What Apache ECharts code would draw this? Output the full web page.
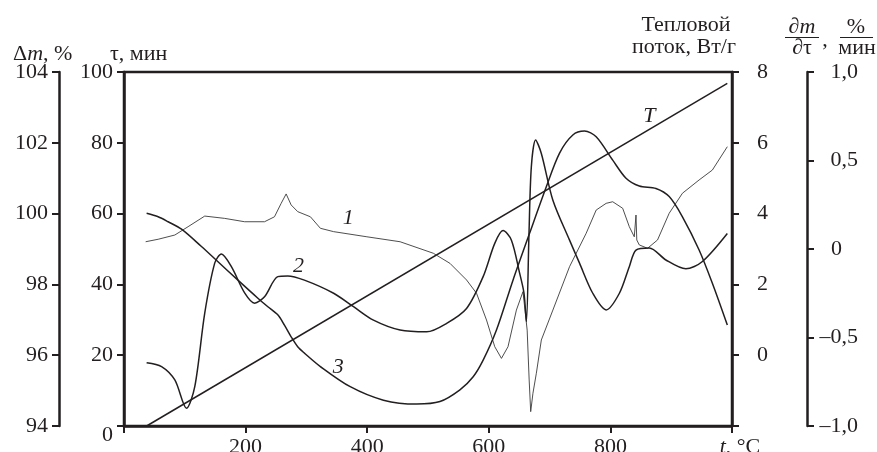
<!DOCTYPE html>
<html>
<head>
<meta charset="utf-8">
<script src="https://cdn.jsdelivr.net/npm/echarts@6/dist/echarts.min.js"></script>
<style>
  html, body { margin: 0; padding: 0; background: #fff; }
  #chart { width: 877px; height: 452px; }
</style>
</head>
<body>
<div id="chart"></div>
<script>
// x axis: temperature t, °C
const xTicks = [0, 200, 400, 600, 800, 1000];

// T: time (τ, мин) against temperature
const lineT_t = [37.2, 992.3];
const lineT_tau = [0, 96.8];

// curve 1 : dm/dτ, %/мин (noisy one)
const curve1_t = [35.6, 56.2, 83.6, 105.4, 132.8, 165.6, 198.4, 231.1, 247.5, 258.5, 266.7, 274.9, 285.7,
  306.6, 323.0, 344.8, 399.5, 454.1, 508.7, 536.1, 563.4, 579.8, 596.2, 609.8, 620.8, 631.6, 645.4, 656.2,
  663.1, 666.4, 668.9, 672.6, 678.2, 686.4, 705.4, 732.8, 760.2, 776.6, 793.0, 803.8, 820.2, 831.1, 839.3,
  842.1, 843.4, 847.5, 861.1, 877.5, 896.7, 918.5, 945.9, 967.7, 992.3];
const curve1_v = [0.041, 0.055, 0.079, 0.126, 0.186, 0.173, 0.154, 0.154, 0.182, 0.258, 0.311, 0.249, 0.211,
  0.182, 0.117, 0.098, 0.069, 0.041, -0.024, -0.081, -0.175, -0.250, -0.401, -0.552, -0.618, -0.552, -0.345, -0.241,
  -0.458, -0.740, -0.919, -0.815, -0.702, -0.514, -0.345, -0.100, 0.089, 0.220, 0.258, 0.267, 0.230, 0.126, 0.069,
  0.192, 0.051, 0.023, 0.004, 0.051, 0.202, 0.315, 0.390, 0.446, 0.578];

// curve 2 : тепловой поток, Вт/г
const curve2_t = [37.2, 61.8, 83.6, 102.8, 116.4, 132.8, 149.2, 160.2, 176.6, 198.4, 214.8, 231.1, 253.0,
  269.3, 296.7, 344.8, 377.5, 410.3, 454.1, 497.9, 530.7, 563.4, 590.7, 609.8, 623.4, 637.2, 650.8, 657.9,
  661.8, 666.1, 670.0, 677.0, 686.4, 705.4, 732.8, 749.2, 771.0, 793.0, 814.8, 831.1, 842.1, 863.9, 891.3,
  924.1, 950.8, 992.3];
const curve2_v = [-0.21, -0.32, -0.70, -1.50, -0.89, 1.19, 2.60, 2.86, 2.50, 1.76, 1.47, 1.65, 2.22,
  2.24, 2.12, 1.75, 1.37, 0.99, 0.71, 0.66, 0.90, 1.32, 2.22, 3.16, 3.52, 3.25, 2.31, 1.75,
  0.95, 3.44, 5.33, 6.08, 5.70, 4.38, 3.25, 2.60, 1.75, 1.28, 1.75, 2.50, 2.97, 3.03, 2.69,
  2.44, 2.64, 3.44];

// curve 3 : Δm, %
const curve3_t = [37.2, 56.2, 72.6, 94.6, 127.4, 154.6, 187.4, 220.2, 236.6, 252.9, 263.9, 274.9, 285.7,
  296.7, 323.0, 372.1, 426.7, 481.5, 519.7, 552.5, 574.3, 590.7, 612.6, 639.8, 667.2, 694.6, 716.4, 738.2,
  757.4, 776.6, 803.8, 825.7, 847.5, 874.9, 896.7, 918.5, 945.9, 967.7, 992.3];
const curve3_v = [100.01, 99.91, 99.77, 99.56, 99.07, 98.64, 98.12, 97.61, 97.37, 97.14, 96.85, 96.52, 96.24,
  96.06, 95.68, 95.11, 94.73, 94.62, 94.69, 95.02, 95.39, 95.86, 96.71, 98.12, 99.45, 100.76, 101.71, 102.22,
  102.33, 102.17, 101.51, 101.0, 100.78, 100.71, 100.48, 99.91, 98.97, 98.03, 96.85];

// подписи кривых: [t, значение на своей оси]
const label1 = [368.9, 0.175];
const label2 = [286.9, 2.52];
const label3 = [352.5, 95.67];
const labelT = [863.9, 87.6];

const FONT = '"Liberation Serif", "Times New Roman", serif';
const INK = '#231f20';

function zip(xs, ys) {
  return xs.map((x, i) => [x, ys[i]]);
}

function curveLabel(text, coord) {
  return {
    symbol: 'circle',
    symbolSize: 1,
    itemStyle: { color: 'transparent' },
    label: {
      show: true, position: 'inside', formatter: text,
      fontFamily: FONT, fontSize: 22, fontStyle: 'italic', color: INK
    },
    data: [{ coord: coord }]
  };
}

const axisCommon = {
  type: 'value',
  axisLine: { show: true, lineStyle: { color: INK, width: 2.5 } },
  axisTick: { show: true, length: 7, lineStyle: { color: INK, width: 2 } },
  splitLine: { show: false },
  axisLabel: { fontFamily: FONT, fontSize: 22, color: INK }
};

const chart = echarts.init(document.getElementById('chart'));

const option = {
  animation: false,
  backgroundColor: '#fff',
  grid: {
    left: 124, right: 145, top: 72, bottom: 26,
    outerBoundsMode: 'none',   // подписи внизу обрезаны, как в оригинале
    show: true, borderColor: INK, borderWidth: 2.5
  },
  xAxis: {
    ...axisCommon,
    min: xTicks[0], max: xTicks[xTicks.length - 1], interval: 200,
    axisLabel: {
      ...axisCommon.axisLabel,
      margin: 10, showMaxLabel: true,
      formatter: v => v === 0 ? '' : (v === 1000 ? '{i|t}, °C' : String(v)),
      rich: {
        i: { fontFamily: FONT, fontSize: 22, fontStyle: 'italic', color: INK, padding: [0, 0, 0, 16] }
      }
    }
  },
  yAxis: [
    { // τ, мин
      ...axisCommon, position: 'left', min: 0, max: 100, interval: 20,
      axisLabel: {
        ...axisCommon.axisLabel, margin: 11,
        formatter: v => v === 0 ? '{z|0}' : String(v),
        rich: { z: { fontFamily: FONT, fontSize: 22, color: INK, padding: [18, 0, 0, 0] } }
      }
    },
    { // Δm, %
      ...axisCommon, position: 'left', offset: 65, min: 94, max: 104, interval: 2,
      axisLabel: { ...axisCommon.axisLabel, margin: 11 }
    },
    { // тепловой поток
      ...axisCommon, position: 'right', offset: 0, min: -2, max: 8, interval: 2,
      axisLabel: { ...axisCommon.axisLabel, margin: 25, formatter: v => v === -2 ? '' : String(v) }
    },
    { // dm/dτ
      ...axisCommon, position: 'right', offset: 75, min: -1, max: 1, interval: 0.5,
      axisLabel: {
        ...axisCommon.axisLabel, margin: 51, align: 'right',
        formatter: v => {
          if (v === 0) return '{z|0}';
          const s = Math.abs(v).toFixed(1).replace('.', ',');
          return v < 0 ? '–' + s : s;
        },
        rich: { z: { fontFamily: FONT, fontSize: 22, color: INK, padding: [0, 16, 0, 0] } }
      }
    }
  ],
  graphic: [
    {
      type: 'text', x: 13, y: 54,
      style: {
        text: '{n|Δ}{i|m}{n|, %}', verticalAlign: 'middle',
        rich: {
          n: { fontFamily: FONT, fontSize: 22, fill: INK },
          i: { fontFamily: FONT, fontSize: 22, fontStyle: 'italic', fill: INK }
        }
      }
    },
    {
      type: 'text', x: 110, y: 54,
      style: { text: 'τ, мин', fontFamily: FONT, fontSize: 22, fill: INK, verticalAlign: 'middle' }
    },
    {
      type: 'text', x: 686, y: 25,
      style: { text: 'Тепловой', fontFamily: FONT, fontSize: 22, fill: INK, align: 'center', verticalAlign: 'middle' }
    },
    {
      type: 'text', x: 684, y: 47,
      style: { text: 'поток, Вт/г', fontFamily: FONT, fontSize: 22, fill: INK, align: 'center', verticalAlign: 'middle' }
    },
    // dm/dτ , %/мин  — дроби
    {
      type: 'text', x: 802, y: 27,
      style: {
        text: '{n|∂}{i|m}', align: 'center', verticalAlign: 'middle',
        rich: {
          n: { fontFamily: FONT, fontSize: 22, fill: INK },
          i: { fontFamily: FONT, fontSize: 22, fontStyle: 'italic', fill: INK }
        }
      }
    },
    { type: 'line', shape: { x1: 785, y1: 37.5, x2: 819, y2: 37.5 }, style: { stroke: INK, lineWidth: 1.2 } },
    {
      type: 'text', x: 802, y: 48,
      style: { text: '∂τ', fontFamily: FONT, fontSize: 22, fill: INK, align: 'center', verticalAlign: 'middle' }
    },
    {
      type: 'text', x: 825, y: 40,
      style: { text: ',', fontFamily: FONT, fontSize: 22, fill: INK, align: 'center', verticalAlign: 'middle' }
    },
    {
      type: 'text', x: 856, y: 27,
      style: { text: '%', fontFamily: FONT, fontSize: 22, fill: INK, align: 'center', verticalAlign: 'middle' }
    },
    { type: 'line', shape: { x1: 840, y1: 37.5, x2: 873, y2: 37.5 }, style: { stroke: INK, lineWidth: 1.2 } },
    {
      type: 'text', x: 857, y: 48,
      style: { text: 'мин', fontFamily: FONT, fontSize: 22, fill: INK, align: 'center', verticalAlign: 'middle' }
    }
  ],
  series: [
    {
      name: 'T', type: 'line', yAxisIndex: 0, showSymbol: false,
      lineStyle: { color: INK, width: 1.5 },
      data: zip(lineT_t, lineT_tau),
      markPoint: curveLabel('T', labelT)
    },
    {
      name: '1', type: 'line', yAxisIndex: 3, showSymbol: false,
      lineStyle: { color: '#3a3a3a', width: 0.9 },
      data: zip(curve1_t, curve1_v),
      markPoint: curveLabel('1', label1)
    },
    {
      name: '2', type: 'line', yAxisIndex: 2, showSymbol: false, smooth: 0.3,
      lineStyle: { color: INK, width: 1.5 },
      data: zip(curve2_t, curve2_v),
      markPoint: curveLabel('2', label2)
    },
    {
      name: '3', type: 'line', yAxisIndex: 1, showSymbol: false, smooth: 0.3,
      lineStyle: { color: INK, width: 1.5 },
      data: zip(curve3_t, curve3_v),
      markPoint: curveLabel('3', label3)
    }
  ]
};

chart.setOption(option);
</script>
</body>
</html>
